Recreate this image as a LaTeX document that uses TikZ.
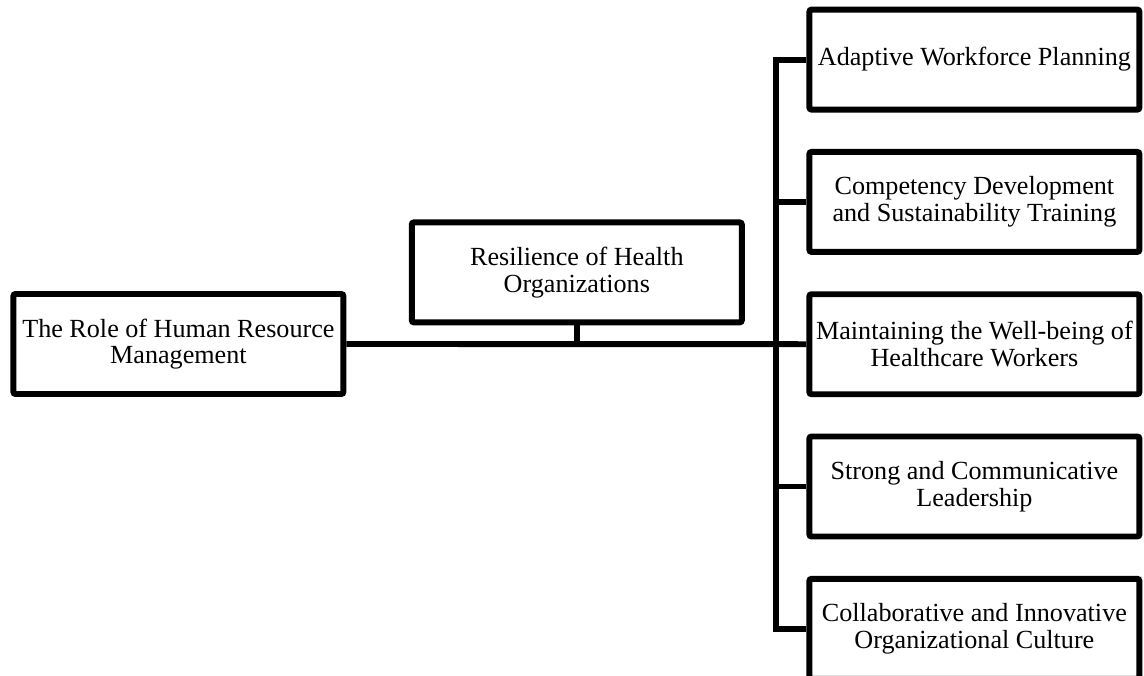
\documentclass[tikz,border=0pt]{standalone}
\usepackage{fontspec}
\setmainfont{Liberation Serif}
\usetikzlibrary{
    positioning
}

\begin{document}
\begin{tikzpicture}[
    node distance=0.91cm and 1.6cm,
    every node/.style={font=\fontsize{18.6}{19}\selectfont},
    caixa/.style={
        draw,
        line width=4.2pt,
        rounded corners=1.5pt,
        minimum width=8.25cm,
        minimum height=2.5cm,
        inner xsep=0pt,
        align=center
    },
    linha/.style={
        line width=4.2pt
    }
]

\useasboundingbox (0,0) rectangle (28.6,-16.9);
\clip (0,0) rectangle (28.6,-16.9);

\node[caixa] (hrm) at (4.46,-8.6) {The Role of Human Resource\\Management};
\node[caixa] (resil) at (14.42,-6.81) {Resilience of Health\\Organizations};

\node[caixa] (plan) at (24.36,-1.49) {Adaptive Workforce Planning};
\node[caixa, below=of plan] (comp) {Competency Development\\and Sustainability Training};
\node[caixa, below=of comp] (well) {Maintaining the Well-being of\\Healthcare Workers};
\node[caixa, below=of well] (lead) {Strong and Communicative\\Leadership};
\node[caixa, below=of lead] (cult) {Collaborative and Innovative\\Organizational Culture};

\coordinate (barra) at (19.4,-8.6);

\draw[linha] (hrm.east) -- (well.west);
\draw[linha] (resil.south) -- (resil.south |- hrm.east);
\draw[linha] (plan.west) -- (plan.west -| barra) -- (cult.west -| barra) -- (cult.west);
\draw[linha] (comp.west) -- (comp.west -| barra);
\draw[linha] (lead.west) -- (lead.west -| barra);

\end{tikzpicture}
\end{document}
